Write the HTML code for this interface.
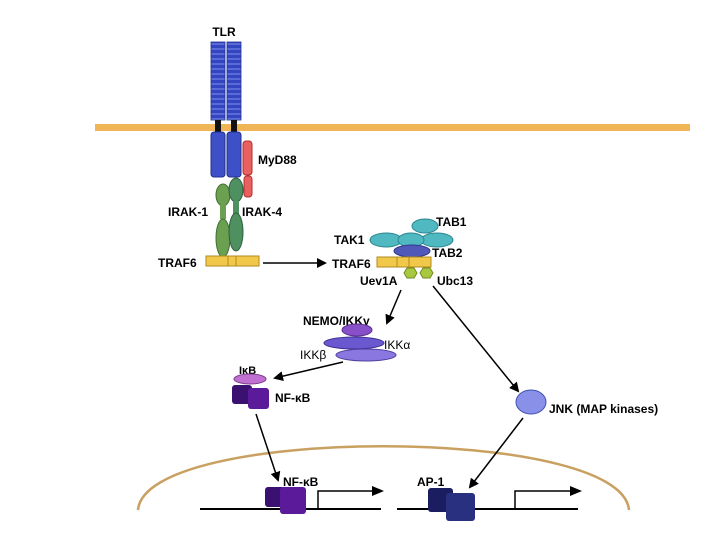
<!DOCTYPE html>
<html><head><meta charset="utf-8"><style>
html,body{margin:0;padding:0;background:#fff;overflow:hidden;}
svg{display:block;font-family:"Liberation Sans",Arial,sans-serif;font-weight:bold;}
</style></head><body>
<svg width="720" height="540" viewBox="0 0 720 540" xmlns="http://www.w3.org/2000/svg">
<defs>
<marker id="ah" markerWidth="10" markerHeight="10" refX="8" refY="5" orient="auto" markerUnits="userSpaceOnUse"><path d="M0,0 L10,5 L0,10 z" fill="#000"/></marker>
<pattern id="stripe" width="6" height="5" patternUnits="userSpaceOnUse"><rect width="6" height="5" fill="#3345c0"/><rect y="3.5" width="6" height="1" fill="#8090ee"/></pattern>
</defs>
<!-- nucleus -->
<path d="M138,510 C145,425 622,425 629,510" fill="none" stroke="#c9a060" stroke-width="2.5"/>
<!-- membrane -->
<rect x="95" y="124" width="595" height="7" fill="#f0b557"/>
<!-- TLR -->
<text x="224" y="36" font-size="12" text-anchor="middle">TLR</text>
<rect x="211" y="42" width="14" height="78" fill="url(#stripe)" stroke="#22308a" stroke-width="0.8"/>
<rect x="227" y="42" width="14" height="78" fill="url(#stripe)" stroke="#22308a" stroke-width="0.8"/>
<rect x="215" y="120" width="6" height="12" fill="#111"/>
<rect x="231" y="120" width="6" height="12" fill="#111"/>
<rect x="211" y="132" width="14" height="45" rx="3" fill="#3d50c8" stroke="#22308a"/>
<rect x="227" y="132" width="14" height="45" rx="3" fill="#3d50c8" stroke="#22308a"/>
<rect x="243" y="141" width="9" height="34" rx="3" fill="#e86060" stroke="#b03030"/>
<rect x="244" y="176" width="8" height="21" rx="3" fill="#e86060" stroke="#b03030"/>
<text x="258" y="164" font-size="12">MyD88</text>
<!-- IRAK -->
<ellipse cx="223" cy="195" rx="7" ry="11" fill="#6aa050" stroke="#3f7030"/>
<rect x="220" y="205" width="6" height="14" fill="#6aa050"/>
<ellipse cx="223" cy="238" rx="7" ry="19" fill="#6aa050" stroke="#3f7030"/>
<ellipse cx="236" cy="190" rx="7" ry="12" fill="#4f9060" stroke="#2f6040"/>
<rect x="233" y="201" width="6" height="14" fill="#4f9060"/>
<ellipse cx="236" cy="232" rx="7" ry="19" fill="#4f9060" stroke="#2f6040"/>
<text x="168" y="216" font-size="12">IRAK-1</text>
<text x="242" y="216" font-size="12">IRAK-4</text>
<!-- TRAF6 left -->
<rect x="206" y="256" width="53" height="10" fill="#f2c84a" stroke="#b08a20"/>
<line x1="228" y1="256" x2="228" y2="266" stroke="#b08a20"/>
<line x1="236" y1="256" x2="236" y2="266" stroke="#b08a20"/>
<text x="158" y="267" font-size="12">TRAF6</text>
<line x1="263" y1="263" x2="325" y2="263" stroke="#000" stroke-width="1.5" marker-end="url(#ah)"/>
<!-- right complex -->
<text x="332" y="268" font-size="12">TRAF6</text>
<ellipse cx="425" cy="226" rx="13" ry="7" fill="#50b8c0" stroke="#2a8890"/>
<ellipse cx="386" cy="240" rx="16" ry="7" fill="#50b8c0" stroke="#2a8890"/>
<ellipse cx="437" cy="240" rx="16" ry="7" fill="#50b8c0" stroke="#2a8890"/>
<ellipse cx="411" cy="240" rx="13" ry="7" fill="#50b8c0" stroke="#2a8890"/>
<ellipse cx="412" cy="251" rx="18" ry="6" fill="#5058b8" stroke="#303890"/>
<text x="334" y="244" font-size="12">TAK1</text>
<text x="436" y="226" font-size="12">TAB1</text>
<text x="432" y="257" font-size="12">TAB2</text>
<rect x="377" y="257" width="54" height="10" fill="#f2c84a" stroke="#b08a20"/>
<line x1="397" y1="257" x2="397" y2="267" stroke="#b08a20"/>
<line x1="409" y1="257" x2="409" y2="267" stroke="#b08a20"/>
<polygon points="404,273 407,268 414,268 417,273 414,278 407,278" fill="#a8c840" stroke="#708a20"/>
<polygon points="420,273 423,268 430,268 433,273 430,278 423,278" fill="#a8c840" stroke="#708a20"/>
<text x="360" y="285" font-size="12">Uev1A</text>
<text x="437" y="285" font-size="12">Ubc13</text>
<line x1="401" y1="290" x2="387" y2="323" stroke="#000" stroke-width="1.5" marker-end="url(#ah)"/>
<line x1="433" y1="286" x2="518" y2="391" stroke="#000" stroke-width="1.5" marker-end="url(#ah)"/>
<!-- IKK -->
<text x="303" y="325" font-size="12">NEMO/IKKγ</text>
<ellipse cx="357" cy="330" rx="15" ry="6" fill="#8850c8" stroke="#5a3090"/>
<ellipse cx="354" cy="343" rx="30" ry="6" fill="#6a58d0" stroke="#403090"/>
<ellipse cx="366" cy="355" rx="30" ry="6" fill="#8a78e0" stroke="#5040a0"/>
<text x="384" y="349" font-size="12" font-weight="normal">IKKα</text>
<text x="300" y="359" font-size="12" font-weight="normal">IKKβ</text>
<line x1="343" y1="362" x2="275" y2="378" stroke="#000" stroke-width="1.5" marker-end="url(#ah)"/>
<!-- IkB/NF-kB -->
<text x="239" y="374" font-size="11">IκB</text>
<ellipse cx="250" cy="379" rx="16" ry="5" fill="#c070d0" stroke="#804090"/>
<rect x="232" y="385" width="20" height="19" rx="3" fill="#3a1070"/>
<rect x="248" y="388" width="21" height="21" rx="3" fill="#5a1a9a"/>
<text x="275" y="402" font-size="12">NF-κB</text>
<line x1="256" y1="414" x2="278" y2="480" stroke="#000" stroke-width="1.5" marker-end="url(#ah)"/>
<!-- JNK -->
<ellipse cx="531" cy="402" rx="15" ry="12" fill="#8890e8" stroke="#4050b0"/>
<text x="549" y="413" font-size="12">JNK (MAP kinases)</text>
<line x1="523" y1="418" x2="470" y2="487" stroke="#000" stroke-width="1.5" marker-end="url(#ah)"/>
<!-- DNA -->
<line x1="200" y1="509" x2="381" y2="509" stroke="#000" stroke-width="2"/>
<line x1="397" y1="509" x2="578" y2="509" stroke="#000" stroke-width="2"/>
<polyline points="318,509 318,491 382,491" fill="none" stroke="#000" stroke-width="1.5"/>
<polygon points="372,486 384,491 372,496" fill="#000"/>
<polyline points="515,509 515,491 580,491" fill="none" stroke="#000" stroke-width="1.5"/>
<polygon points="570,486 582,491 570,496" fill="#000"/>
<rect x="265" y="487" width="20" height="20" rx="3" fill="#3a1070"/>
<rect x="280" y="487" width="26" height="27" rx="3" fill="#5a1a9a"/>
<text x="283" y="486" font-size="12">NF-κB</text>
<rect x="428" y="488" width="25" height="24" rx="3" fill="#1a1e60"/>
<rect x="446" y="493" width="29" height="28" rx="3" fill="#2a3080"/>
<text x="417" y="486" font-size="12">AP-1</text>
</svg>
</body></html>
